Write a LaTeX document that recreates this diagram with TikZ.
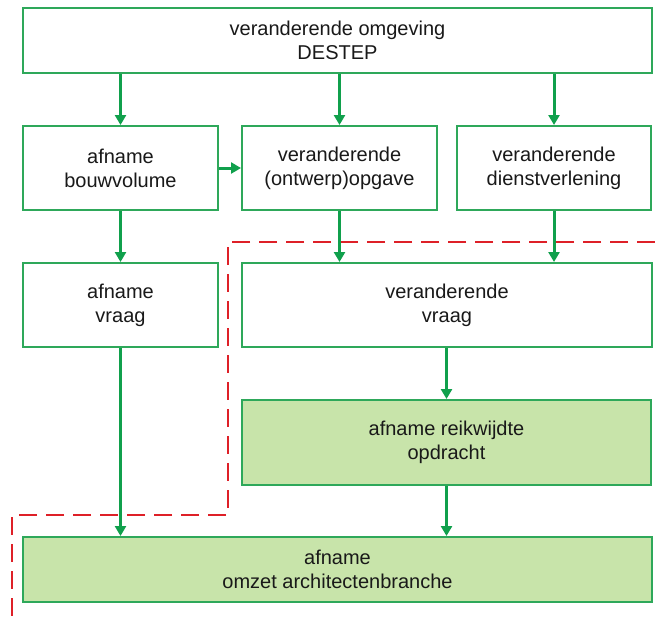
\documentclass[tikz,border=0pt]{standalone}
\usepackage{fontspec}
\setmainfont{Liberation Sans}
\usetikzlibrary{arrows.meta}
\definecolor{boxgreen}{RGB}{46,168,90}
\definecolor{arrowgreen}{RGB}{16,160,76}
\definecolor{fillgreen}{RGB}{200,228,170}
\definecolor{dashred}{RGB}{222,32,40}
\definecolor{txt}{RGB}{25,25,25}
\tikzset{
  box/.style={draw=boxgreen, line width=2pt, fill=white, rectangle, inner sep=0pt,
    align=center, text=txt, font=\fontsize{20}{24}\selectfont},
  hibox/.style={box, fill=fillgreen},
  flow/.style={draw=arrowgreen, line width=3pt, -{Triangle[length=10pt,width=11pt]}},
  border/.style={draw=dashred, line width=2.6pt, dash pattern=on 18pt off 9pt}
}
\begin{document}
\begin{tikzpicture}[x=1pt,y=-1pt]
\useasboundingbox (0,0) rectangle (655,619);
\fill[white] (0,0) rectangle (655,619);

% dashed boundary
\coordinate (d1) at (655,242);
\coordinate (d2) at (228,242);
\coordinate (d3) at (228,515);
\coordinate (d4) at (12,515);
\coordinate (d5) at (12,619);
\draw[border] (d1) -- (d2) -- (d3) -- (d4) -- (d5);

% boxes
\node[box, minimum width=629pt, minimum height=65pt] (top) at (337.5,40.5) {veranderende omgeving\\DESTEP};
\node[box, minimum width=195pt, minimum height=84pt] (bouw) at (120.5,168) {afname\\bouwvolume};
\node[box, minimum width=195pt, minimum height=84pt] (opg) at (339.5,168) {veranderende\\(ontwerp)opgave};
\node[box, minimum width=194pt, minimum height=84pt] (dienst) at (554,168) {veranderende\\dienstverlening};
\node[box, minimum width=195pt, minimum height=84pt] (avraag) at (120.5,305) {afname\\vraag};
\node[box, minimum width=410pt, minimum height=84pt] (vvraag) at (447,305) {veranderende\\vraag};
\node[hibox, minimum width=409pt, minimum height=85pt] (reik) at (446.5,442.5) {afname reikwijdte\\opdracht};
\node[hibox, minimum width=629pt, minimum height=65pt] (omzet) at (337.5,569.5) {afname\\omzet architectenbranche};

% connectors
\draw[flow] (top.south -| bouw.north) -- (bouw.north);
\draw[flow] (top.south -| opg.north) -- (opg.north);
\draw[flow] (top.south -| dienst.north) -- (dienst.north);
\draw[flow] (bouw.east) -- (opg.west);
\draw[flow] (bouw.south) -- (avraag.north);
\draw[flow] (opg.south) -- (opg.south |- vvraag.north);
\draw[flow] (dienst.south) -- (dienst.south |- vvraag.north);
\draw[flow] (vvraag.south -| reik.north) -- (reik.north);
\draw[flow] (reik.south) -- (reik.south |- omzet.north);
\draw[flow] (avraag.south) -- (avraag.south |- omzet.north);
\end{tikzpicture}
\end{document}
